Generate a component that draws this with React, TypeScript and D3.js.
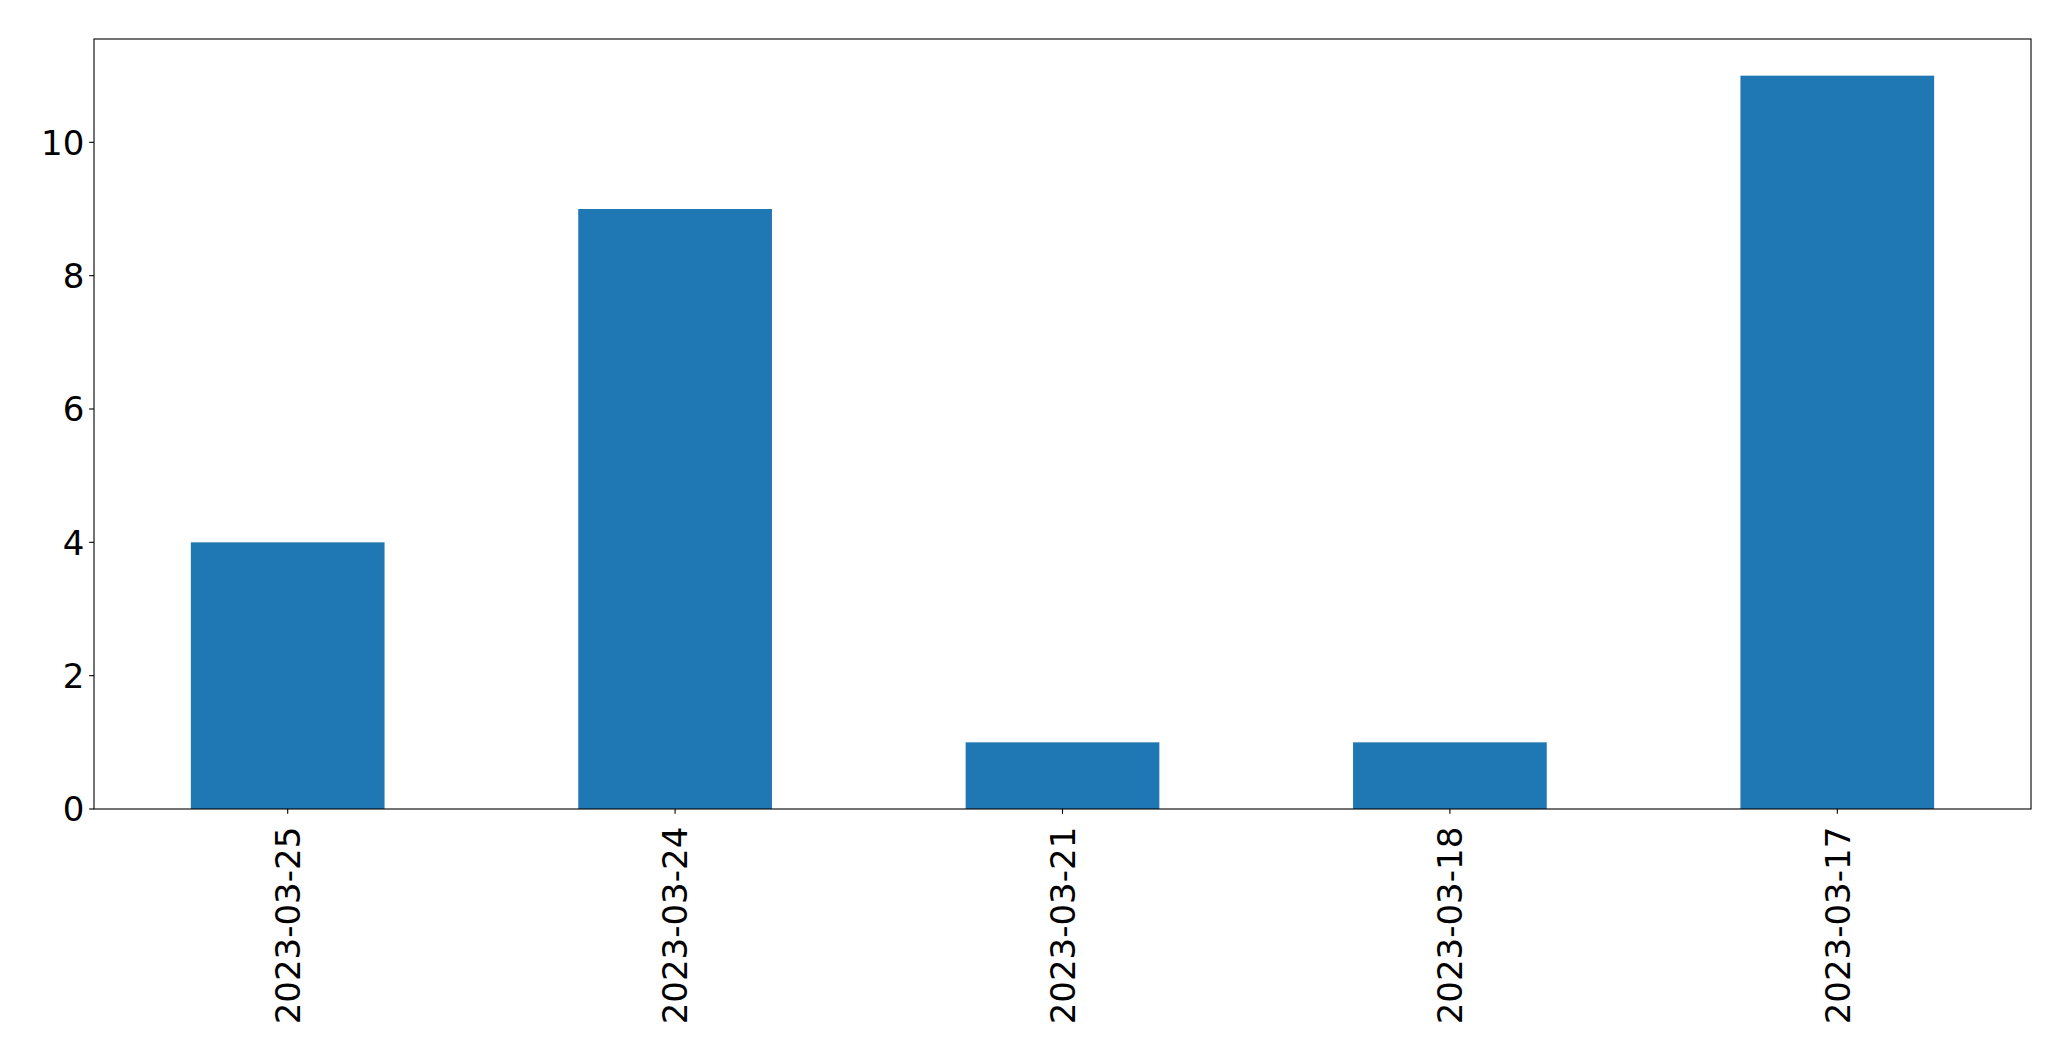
import React from "react";
import * as d3 from "d3";

const categories = ["2023-03-25", "2023-03-24", "2023-03-21", "2023-03-18", "2023-03-17"];
const values = [4, 9, 1, 1, 11];
const yTicks = [0, 2, 4, 6, 8, 10];

const W = 2071;
const H = 1061;
const M = { left: 94, top: 39, right: 2031, bottom: 809 };
const FONT = "'DejaVu Sans', sans-serif";
const FS = 34;
const TICK = 4.86;
const PAD = 4.86;

export default function App() {
  const x = d3.scaleLinear().domain([-0.5, categories.length - 0.5]).range([M.left, M.right]);
  const yMax = d3.max(values)! * 1.05;
  const y = d3.scaleLinear().domain([0, yMax]).range([M.bottom, M.top]);
  const bw = x(0.25) - x(-0.25);

  return (
    <svg width={W} height={H} style={{ position: "absolute", left: 0, top: 0, background: "#fff" }}>
      <rect x={0} y={0} width={W} height={H} fill="#fff" />
      {values.map((v, i) => (
        <rect key={i} x={x(i) - bw / 2} y={y(v)} width={bw} height={y(0) - y(v)} fill="#1f77b4" />
      ))}
      <rect x={M.left} y={M.top} width={M.right - M.left} height={M.bottom - M.top} fill="none" stroke="#000" strokeWidth={1.1} />
      {yTicks.map((t) => (
        <g key={t}>
          <line x1={M.left - TICK} x2={M.left} y1={y(t)} y2={y(t)} stroke="#000" strokeWidth={1.1} />
          <text x={M.left - TICK - PAD} y={y(t)} dy="0.36em" textAnchor="end" fontFamily={FONT} fontSize={FS} fill="#000">
            {t}
          </text>
        </g>
      ))}
      {categories.map((c, i) => (
        <g key={c}>
          <line x1={x(i)} x2={x(i)} y1={M.bottom} y2={M.bottom + TICK} stroke="#000" strokeWidth={1.1} />
          <text
            transform={`translate(${x(i)},${M.bottom + TICK + PAD + 8}) rotate(-90)`}
            textAnchor="end"
            dy="0.36em"
            fontFamily={FONT}
            fontSize={FS}
            fill="#000"
          >
            {c}
          </text>
        </g>
      ))}
    </svg>
  );
}
